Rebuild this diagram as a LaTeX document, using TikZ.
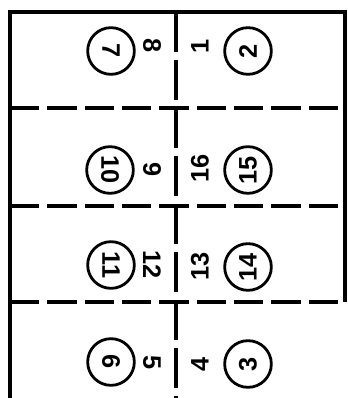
\documentclass[tikz,border=0pt]{standalone}
\usepackage{fontspec}
\setmainfont{Liberation Sans}
\begin{document}
\begin{tikzpicture}[x=0.75pt,y=-0.75pt,
  border/.style={line width=2.6pt},
  hfold/.style={line width=2.6pt, dash pattern=on 22pt off 6pt},
  vfold/.style={line width=2.6pt, dash pattern=on 30pt off 6pt},
  circ/.style={circle,draw,line width=2.1pt,minimum size=35pt,inner sep=0pt,font=\fontsize{19}{19}\bfseries\selectfont},
  num/.style={font=\fontsize{19}{19}\bfseries\selectfont,inner sep=0pt},
  L/.style={rotate=-90}, R/.style={rotate=90}]
\useasboundingbox (0,0) rectangle (348,398);
% frame corners
\coordinate (tl) at (10,12);
\coordinate (tr) at (345,12);
\coordinate (bl) at (10,398);
\coordinate (rb) at (345,302);
\coordinate (ct) at (176,12);
\coordinate (cb) at (176,398);
\coordinate (d1l) at (10,108);  \coordinate (d1r) at (345,108);
\coordinate (d2l) at (10,206);  \coordinate (d2r) at (345,206);
\coordinate (d3l) at (10,302);  \coordinate (d3r) at (345,302);
\draw[border] (bl) -- (tl) -- (tr) -- (rb);
\draw[hfold] (d1l) -- (d1r);
\draw[hfold] (d2l) -- (d2r);
\draw[hfold] (d3l) -- (d3r);
\draw[vfold] (ct) -- (cb);
% row 1
\node[circ,L] (c7) at (111,51) {7};
\node[num,L] (n8) at (152,46) {8};
\node[num,R] (n1) at (200,46) {1};
\node[circ,R] (c2) at (248,51) {2};
% row 2
\node[circ,L] (c10) at (110,170) {10};
\node[num,L] (n9) at (152,170) {9};
\node[num,R] (n16) at (200,168) {16};
\node[circ,R] (c15) at (248,170) {15};
% row 3
\node[circ,L] (c11) at (111,265) {11};
\node[num,L] (n12) at (152,265) {12};
\node[num,R] (n13) at (200,266) {13};
\node[circ,R] (c14) at (248,267) {14};
% row 4
\node[circ,L] (c6) at (111,362) {6};
\node[num,L] (n5) at (152,363) {5};
\node[num,R] (n4) at (200,364) {4};
\node[circ,R] (c3) at (248,364) {3};
\end{tikzpicture}
\end{document}
